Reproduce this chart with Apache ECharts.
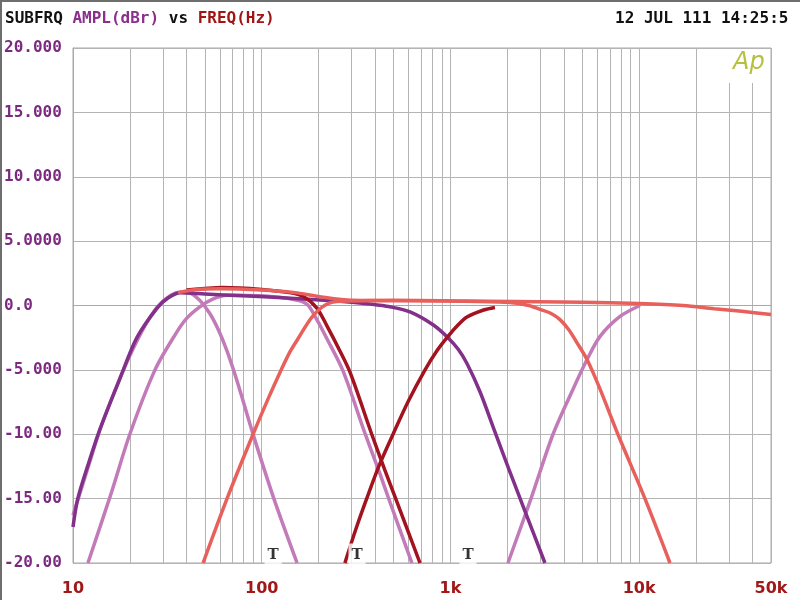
<!DOCTYPE html>
<html><head><meta charset="utf-8">
<script src="https://cdn.jsdelivr.net/npm/echarts@6/dist/echarts.min.js"></script>
<style>html,body{margin:0;padding:0;background:#fff}#c{width:800px;height:600px}</style>
</head><body><div id="c"></div><script>
// ---- data (frequency Hz, amplitude dBr) ----
const purpleBand1 = [[10,-17.2],[10.6,-15],[12,-12.4],[13.9,-9.6],[17.7,-5.7],[21.8,-2.5],[27.9,-0.2],[32,0.6],[37,1.0],[50,0.9],[80,0.75],[150,0.55],[250,0.35],[384,0.1],[479,-0.1],[611,-0.5],[809,-1.5],[971,-2.5],[1100,-3.4],[1224,-4.5],[1435,-6.7],[1720,-9.8],[2040,-12.7],[2400,-15.4],[3170,-20]];
const orchidBand1 = [[10,-16.3],[12,-12.6],[14,-9.5],[17,-6.3],[20,-3.9],[24,-1.6],[28,-0.1],[33,0.8],[38,1.05],[42,0.95],[47,0.4],[53,-0.6],[59,-1.9],[65,-3.4],[72,-5.3],[80,-7.5],[90,-10],[116,-15],[154,-20]];
const orchidBand2 = [[12,-20],[16,-14.5],[20,-10],[27.2,-5],[35,-2.2],[40,-1.0],[47,-0.1],[55,0.5],[65.5,0.8],[100,0.75],[150,0.45],[174,0.1],[196,-1.1],[222,-2.6],[270,-5.1],[352,-9.9],[424,-13.1],[479,-15.3],[625,-20]];
const orchidBand3 = [[2018,-20],[2673,-15],[3498,-10],[4465,-6.5],[5300,-4.2],[6210,-2.4],[7925,-0.85],[10110,0.0]];
const redLow = [[40,1.2],[62,1.4],[100,1.25],[140,1.0],[166,0.7],[196,-0.2],[222,-1.6],[255,-3.3],[294,-5.2],[383,-10],[450,-12.8],[522,-15.3],[690,-20]];
const redHigh = [[276,-20],[315,-17.4],[360,-15],[420,-12.4],[500,-9.9],[600,-7.4],[734,-5],[850,-3.5],[971,-2.4],[1100,-1.5],[1224,-0.9],[1500,-0.35],[1722,-0.15]];
const coralBand = [[48.9,-20],[65.5,-15],[90,-10],[110,-7.0],[125,-5.2],[140,-3.7],[154,-2.7],[187,-0.8],[230,0.2],[300,0.35],[500,0.4],[1000,0.35],[2000,0.25],[2600,0.0],[2985,-0.3],[3400,-0.6],[3808,-1.1],[4250,-1.9],[4690,-2.9],[5300,-4.2],[6210,-6.5],[7720,-10],[10740,-15],[14580,-20]];
const coralFull = [[36,1.0],[45,1.25],[60,1.3],[100,1.2],[150,1.0],[200,0.7],[300,0.4],[1000,0.35],[5000,0.25],[10000,0.15],[17100,0.0],[25000,-0.25],[35000,-0.45],[50000,-0.7]];
const cursorMarks = [[115,-20],[320,-20],[1240,-20]];

// ---- axis ticks / labels ----
const gridFreqs = [10,20,30,40,50,60,70,80,90,100,200,300,400,500,600,700,800,900,1000,2000,3000,4000,5000,6000,7000,8000,9000,10000,20000,30000,40000,50000];
const xLabelValues = [10,100,1000,10000,50000];
const xLabelTexts = ['10','100','1k','10k','50k'];
const yTickValues = [20,15,10,5,0,-5,-10,-15,-20];
const yTickTexts = ['20.000','15.000','10.000','5.0000','0.0','-5.000','-10.00','-15.00','-20.00'];

const C_PURPLE = '#82308a', C_ORCHID = '#c27ab8', C_RED = '#a3131f', C_CORAL = '#e8605c';

function line(name, data, color, z) {
  return {name, type:'line', data, showSymbol:false, smooth:0.3, z,
    lineStyle:{color, width:3.5}, itemStyle:{color}, silent:true};
}

const chart = echarts.init(document.getElementById('c'), null, {renderer:'canvas'});
chart.setOption({
  animation:false,
  backgroundColor:'#ffffff',
  grid:{left:73, right:29, top:48, bottom:37, show:true, borderColor:'#a9a9a9', borderWidth:1},
  xAxis:{type:'log', logBase:10, min:10, max:50000,
    axisLine:{show:true, lineStyle:{color:'#a9a9a9', width:1}},
    axisTick:{show:false, customValues:gridFreqs},
    splitLine:{show:true, lineStyle:{color:'#b4b4b4', width:1}},
    axisLabel:{customValues:xLabelValues, margin:18, color:'#a01818', fontFamily:'DejaVu Sans', fontWeight:'bold', fontSize:16,
      formatter:(v)=>{const i=xLabelValues.indexOf(Math.round(v)); return i>=0?xLabelTexts[i]:'';}}
  },
  yAxis:{type:'value', min:-20, max:20, interval:5,
    axisLine:{show:true, lineStyle:{color:'#a9a9a9', width:1}},
    axisTick:{show:false},
    splitLine:{show:true, lineStyle:{color:'#b4b4b4', width:1}},
    axisLabel:{align:'left', margin:69, color:'#7b2a80', fontFamily:'DejaVu Sans Mono', fontWeight:'bold', fontSize:16,
      formatter:(v)=>{const i=yTickValues.indexOf(v); return i>=0?yTickTexts[i]:'';}}
  },
  series:[
    line('orchid1', orchidBand1, C_ORCHID, 2),
    line('orchid2', orchidBand2, C_ORCHID, 2),
    line('orchid3', orchidBand3, C_ORCHID, 2),
    line('purple1', purpleBand1, C_PURPLE, 3),
    line('redLow', redLow, C_RED, 4),
    line('redHigh', redHigh, C_RED, 4),
    line('coralBand', coralBand, C_CORAL, 5),
    line('coralFull', coralFull, C_CORAL, 5),
    {type:'scatter', data:cursorMarks, symbol:'rect', symbolSize:[1,1], itemStyle:{color:'rgba(255,255,255,0)'}, z:10, silent:true,
      label:{show:true, position:'inside', offset:[0,-8], formatter:'T', color:'#000', fontFamily:'DejaVu Serif', fontWeight:'bold', fontSize:15,
        backgroundColor:'#ffffff', padding:[2,3,6,3]}}
  ],
  graphic:[
    {type:'rect', left:0, top:0, shape:{width:800, height:2}, style:{fill:'#6e6e6e'}, z:50},
    {type:'rect', left:0, top:0, shape:{width:2, height:600}, style:{fill:'#6e6e6e'}, z:50},
    {type:'text', left:5, top:11, z:50, style:{
      text:'{k|SUBFRQ} {p|AMPL(dBr)} {k|vs} {r|FREQ(Hz)}',
      rich:{k:{fill:'#111', font:'bold 16px "DejaVu Sans Mono"'}, p:{fill:'#8a2f8c', font:'bold 16px "DejaVu Sans Mono"'}, r:{fill:'#a01414', font:'bold 16px "DejaVu Sans Mono"'}},
      font:'bold 16px "DejaVu Sans Mono"'}},
    {type:'text', left:615, top:11, z:50, style:{text:'12 JUL 111 14:25:5', fill:'#111', font:'bold 16px "DejaVu Sans Mono"'}},
    {type:'rect', left:700, top:49, shape:{width:70, height:34}, style:{fill:'#ffffff'}, z:50},
    {type:'text', left:733, top:51, z:51, style:{text:'Ap', fill:'#b6bf3e', font:'italic 24px "DejaVu Sans"'}}
  ]
});
</script></body></html>
